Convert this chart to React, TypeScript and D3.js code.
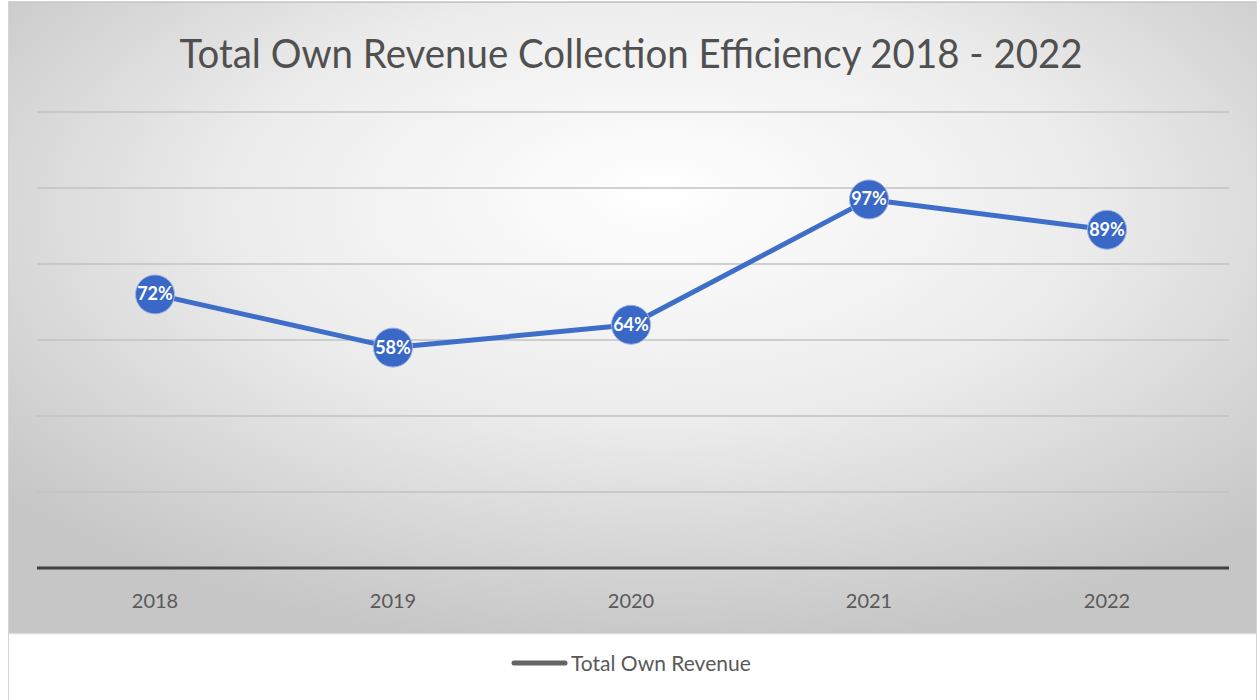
import React from "react";
import * as d3 from "d3";

const categories = ["2018", "2019", "2020", "2021", "2022"];
const values = [72, 58, 64, 97, 89];
const yTicks = [0, 20, 40, 60, 80, 100, 120];
const title = "Total Own Revenue Collection Efficiency 2018 - 2022";
const seriesName = "Total Own Revenue";

export default function App() {
  const W = 1260;
  const H = 700;
  const x = d3.scalePoint<string>().domain(categories).range([36, 1226]).padding(0.5);
  const y = d3.scaleLinear().domain([0, 120]).range([568, 112]);
  const line = d3
    .line<number>()
    .x((_, i) => x(categories[i]) as number)
    .y((d) => y(d));
  const font = "Lato, 'Open Sans', sans-serif";
  const txt = "#595959";

  return (
    <svg
      width={W}
      height={H}
      style={{ position: "absolute", left: 0, top: 0, display: "block" }}
    >
      <defs>
        <radialGradient id="bg" cx="52%" cy="35%" r="68%" fx="52%" fy="30%">
          <stop offset="0%" stopColor="#ffffff" />
          <stop offset="50%" stopColor="#ececec" />
          <stop offset="100%" stopColor="#c6c6c6" />
        </radialGradient>
        <linearGradient id="shadow" x1="0" y1="0" x2="0" y2="1">
          <stop offset="0%" stopColor="#bdbdbd" />
          <stop offset="100%" stopColor="#ffffff" />
        </linearGradient>
      </defs>
      <rect x={0} y={0} width={W} height={H} fill="#ffffff" />
      <rect x={8.5} y={1.5} width={1248} height={H} fill="none" stroke="#d4d4d4" strokeWidth={1} />
      <rect x={9} y={2} width={1247} height={630} fill="url(#bg)" />
      <rect x={9} y={632} width={1247} height={3} fill="url(#shadow)" />
      <line x1={9} x2={1256} y1={2.5} y2={2.5} stroke="#c8c8c8" strokeWidth={1} />

      <text
        x={631}
        y={68}
        textAnchor="middle"
        fontFamily={font}
        fontSize={40}
        fill="#505050"
        textLength={903}
        lengthAdjust="spacingAndGlyphs"
      >
        {title}
      </text>

      {yTicks
        .filter((t) => t > 0)
        .map((t) => (
          <line
            key={t}
            x1={37}
            x2={1229}
            y1={y(t)}
            y2={y(t)}
            stroke="#c2c2c2"
            strokeWidth={1.5}
          />
        ))}
      <line x1={37} x2={1229} y1={y(0)} y2={y(0)} stroke="#404040" strokeWidth={3} />

      {categories.map((c) => (
        <text
          key={c}
          x={x(c)}
          y={608}
          textAnchor="middle"
          fontFamily={font}
          fontSize={20}
          fill={txt}
        >
          {c}
        </text>
      ))}

      <path d={line(values) || ""} fill="none" stroke="#3f6ec8" strokeWidth={5} strokeLinejoin="round" />
      {values.map((v, i) => (
        <g key={i}>
          <circle
            cx={x(categories[i])}
            cy={y(v)}
            r={19.5}
            fill="#3a68c6"
            stroke="#9db4e4"
            strokeWidth={1}
          />
          <text
            x={x(categories[i])}
            y={y(v) + 6}
            textAnchor="middle"
            fontFamily={font}
            fontSize={18}
            fontWeight="bold"
            fill="#ffffff"
          >
            {v + "%"}
          </text>
        </g>
      ))}

      <line x1={514} x2={565} y1={663} y2={663} stroke="#646464" strokeWidth={5} strokeLinecap="round" />
      <text x={571} y={671} fontFamily={font} fontSize={21} fill={txt}>
        {seriesName}
      </text>
    </svg>
  );
}
